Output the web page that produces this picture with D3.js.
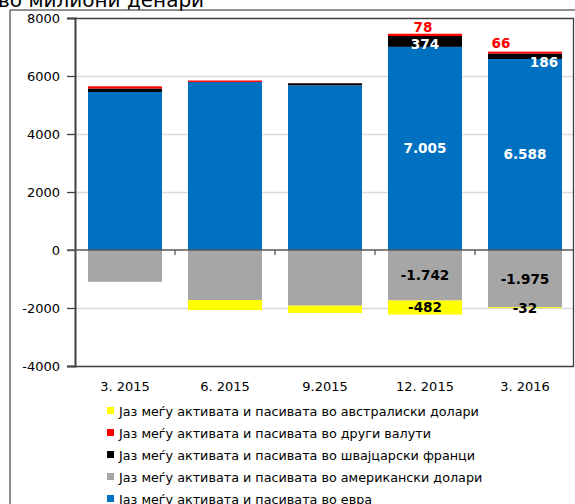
<!DOCTYPE html>
<html>
<head>
<meta charset="utf-8">
<script src="https://cdn.jsdelivr.net/npm/d3@7.9.0/dist/d3.min.js"></script>
<style>
  body { margin: 0; background: #fff; }
  svg { display: block; font-family: "DejaVu Sans", Verdana, sans-serif; }
</style>
</head>
<body>
<svg id="chart" width="575" height="504"></svg>
<script>
const categories = ['3. 2015', '6. 2015', '9.2015', '12. 2015', '3. 2016'];

// positive stack: euro (bottom), swiss francs, other currencies
const euro = [5450, 5790, 5680, 7005, 6588];
const chf = [120, 5, 70, 374, 186];
const other = [75, 50, 5, 78, 66];
// negative stack: us dollars, then australian dollars
const usd = [-1095, -1725, -1920, -1742, -1975];
const aud = [0, -345, -250, -482, -32];

const yTicks = [-4000, -2000, 0, 2000, 4000, 6000, 8000];

const legendItems = [
  { name: 'Јаз меѓу активата и пасивата во австралиски долари', color: '#FFFF00' },
  { name: 'Јаз меѓу активата и пасивата во други валути', color: '#FF0000' },
  { name: 'Јаз меѓу активата и пасивата во швајцарски франци', color: '#000000' },
  { name: 'Јаз меѓу активата и пасивата во американски долари', color: '#A6A6A6' },
  { name: 'Јаз меѓу активата и пасивата во евра', color: '#0070C0' }
];

const svg = d3.select('#chart');
const plot = { left: 75, right: 573, top: 18, bottom: 366 };

const x = d3.scaleBand().domain(categories).range([plot.left, plot.left + 500]).paddingInner(0.26).paddingOuter(0.13);
const y = d3.scaleLinear().domain([-4000, 8000]).range([plot.bottom, plot.top]);

// title (cut off at the top, as in the source)
svg.append('text').attr('x', -2).attr('y', 7).attr('font-size', 20).attr('fill', '#000')
  .text('во милиони денари');

// outer chart frame
svg.append('path').attr('d', 'M10,504 V10 H575').attr('fill', 'none').attr('stroke', '#222').attr('stroke-width', 1);

// gridlines
svg.append('g').selectAll('line').data(yTicks.filter(d => d !== 0 && d !== 8000 && d !== -4000)).join('line')
  .attr('x1', plot.left).attr('x2', plot.right)
  .attr('y1', d => Math.round(y(d)) + 0.5).attr('y2', d => Math.round(y(d)) + 0.5)
  .attr('stroke', '#D9D9D9').attr('stroke-width', 1.5);

// series
const seriesDefs = [
  { key: 'euro', values: euro, color: '#0070C0' },
  { key: 'chf', values: chf, color: '#000000' },
  { key: 'other', values: other, color: '#FF0000' },
  { key: 'usd', values: usd, color: '#A6A6A6' },
  { key: 'aud', values: aud, color: '#FFFF00' }
];
const rows = categories.map((c, i) => {
  const r = { cat: c };
  seriesDefs.forEach(s => r[s.key] = s.values[i]);
  return r;
});
const stack = d3.stack().keys(seriesDefs.map(s => s.key)).offset(d3.stackOffsetDiverging);
const stacked = stack(rows);
const colorOf = Object.fromEntries(seriesDefs.map(s => [s.key, s.color]));

const bars = svg.append('g');
stacked.forEach(layer => {
  bars.append('g').attr('fill', colorOf[layer.key])
    .selectAll('rect').data(layer).join('rect')
    .attr('x', d => x(d.data.cat))
    .attr('width', x.bandwidth())
    .attr('y', d => y(d[1]))
    .attr('height', d => Math.max(0, y(d[0]) - y(d[1])));
});

// plot frame: top, right, bottom
svg.append('path').attr('d', `M${plot.left},${plot.top + 0.5} H${plot.right + 0.5} V${plot.bottom + 0.5} H${plot.left}`)
  .attr('fill', 'none').attr('stroke', '#404040').attr('stroke-width', 1.3);

// y axis
const yAxis = svg.append('g').attr('transform', `translate(${plot.left},0)`)
  .call(d3.axisLeft(y).tickValues(yTicks).tickSize(8).tickPadding(7).tickFormat(d => String(d)));
yAxis.select('.domain').attr('stroke', '#404040').attr('stroke-width', 2);
yAxis.selectAll('.tick line').attr('stroke', '#404040').attr('stroke-width', 1.3);
yAxis.selectAll('text').attr('font-size', 13).attr('fill', '#000')
  .attr('font-family', '"DejaVu Sans", Verdana, sans-serif');

// zero line with category boundary ticks
const xAxis = svg.append('g').attr('transform', `translate(0,${y(0)})`);
xAxis.append('line').attr('x1', plot.left - 8).attr('x2', plot.right)
  .attr('stroke', '#595959').attr('stroke-width', 1.5);
xAxis.selectAll('.bt').data(categories.slice(1)).join('line').attr('class', 'bt')
  .attr('x1', d => x(d) - x.step() * x.paddingInner() / 2)
  .attr('x2', d => x(d) - x.step() * x.paddingInner() / 2)
  .attr('y1', 0).attr('y2', 5).attr('stroke', '#595959').attr('stroke-width', 1.3);

// category labels
svg.append('g').selectAll('text').data(categories).join('text')
  .attr('x', d => x(d) + x.bandwidth() / 2).attr('y', 391)
  .attr('text-anchor', 'middle').attr('font-size', 13).attr('fill', '#000')
  .text(d => d);

// data labels (last two periods), macedonian style: 7.005, hyphen minus
const fmt = v => (v < 0 ? '-' : '') + d3.format(',')(Math.abs(v)).replace(/,/g, '.');
const labelled = [3, 4];
const labelLayer = svg.append('g').attr('font-weight', 'bold').attr('font-size', 13.6).attr('text-anchor', 'middle');
const nudge = { chf: [[0, 3], [19, 6]], other: [[-2, -7], [-24, -9]] };
stacked.forEach(layer => {
  labelled.forEach((i, k) => {
    const d = layer[i];
    const cx = x(d.data.cat) + x.bandwidth() / 2;
    let cy = (y(d[0]) + y(d[1])) / 2;
    let dx = 0;
    let fill = '#000';
    if (layer.key === 'euro' || layer.key === 'chf') fill = '#fff';
    if (layer.key === 'other') { fill = '#FF0000'; cy = y(d[1]); }
    if (nudge[layer.key]) { dx = nudge[layer.key][k][0]; cy += nudge[layer.key][k][1]; }
    labelLayer.append('text')
      .attr('x', cx + dx).attr('y', cy).attr('dy', '0.36em')
      .attr('fill', fill)
      .text(fmt(d.data[layer.key]));
  });
});

// legend
const legend = svg.append('g').attr('transform', 'translate(107,411)');
const li = legend.selectAll('g').data(legendItems).join('g')
  .attr('transform', (d, i) => `translate(0,${i * 22})`);
li.append('rect').attr('x', 0).attr('y', -4).attr('width', 7).attr('height', 7).attr('fill', d => d.color);
li.append('text').attr('x', 12).attr('y', 0).attr('dy', '0.36em').attr('font-size', 12.75).attr('fill', '#000')
  .text(d => d.name);
</script>
</body>
</html>
